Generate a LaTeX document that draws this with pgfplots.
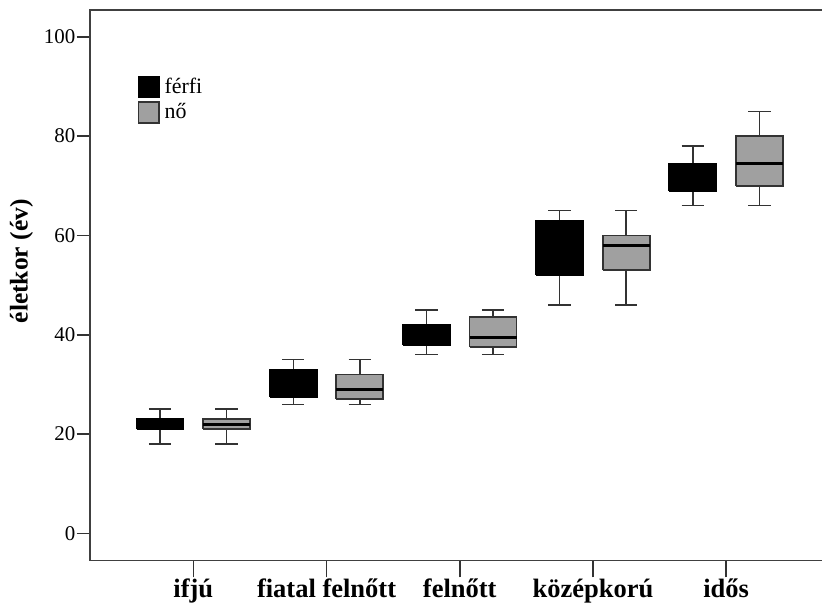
\documentclass[border=0pt]{standalone}
\usepackage{fontspec}
\setmainfont{Liberation Serif}
\usepackage{pgfplots}
\pgfplotsset{compat=1.18}
\usetikzlibrary{calc}
\definecolor{boxgray}{HTML}{A0A0A0}
\definecolor{linegray}{HTML}{333333}
\begin{document}
\begin{tikzpicture}
\begin{axis}[
  name=ax,
  scale only axis,
  width=369.75bp, height=275.35bp,
  xmin=-0.776, xmax=4.776,
  ymin=-5.5, ymax=105.4,
  xtick={0,1,2,3,4},
  xticklabels={ifjú, fiatal felnőtt, felnőtt, középkorú, idős},
  ytick={0,20,40,60,80,100},
  tick pos=left,
  tick align=outside,
  major tick length=6.65bp,
  xtick style={/pgfplots/major tick length=8.35bp},
  tick style={line width=0.75bp, linegray},
  axis line style={line width=0.75bp, black!75},
  /pgf/number format/assume math mode=true,
  yticklabel style={font=\fontsize{10.5}{12}\selectfont, inner sep=0.5bp},
  xticklabel style={font=\bfseries\fontsize{13.3}{15}\selectfont, inner sep=0pt, yshift=-2.2bp},
  ylabel={életkor (év)},
  every axis y label/.style={at={(axis description cs:-0.0926,0.5437)}, rotate=90, anchor=center, font=\bfseries\fontsize{12.8}{14}\selectfont},
  legend style={at={(axis description cs:0.0645,0.8802)}, anchor=north west, draw=none, fill=none, inner sep=0pt, outer sep=0pt, row sep=1.35bp, font=\fontsize{11}{13}\selectfont, nodes={inner sep=0pt}, /tikz/every odd column/.append style={column sep=2.2bp}},
  legend cell align=left,
  legend image code/.code={\draw[#1] (0bp,-5.17bp) rectangle (10.35bp,5.17bp);},
  unbounded coords=jump,
]
% ---------- whiskers (férfi), centres -0.25, 0.75, 1.75, 2.75, 3.75 ----------
\addplot[draw=linegray, line width=0.75bp, forget plot] coordinates {
 (-0.25,23) (-0.25,25) (0,nan) (-0.334,25) (-0.166,25) (0,nan)
 (-0.25,21) (-0.25,18) (0,nan) (-0.334,18) (-0.166,18) (0,nan)
 (0.75,33) (0.75,35) (0,nan) (0.666,35) (0.834,35) (0,nan)
 (0.75,27.5) (0.75,26) (0,nan) (0.666,26) (0.834,26) (0,nan)
 (1.75,42) (1.75,45) (0,nan) (1.666,45) (1.834,45) (0,nan)
 (1.75,38) (1.75,36) (0,nan) (1.666,36) (1.834,36) (0,nan)
 (2.75,63) (2.75,65) (0,nan) (2.666,65) (2.834,65) (0,nan)
 (2.75,52) (2.75,46) (0,nan) (2.666,46) (2.834,46) (0,nan)
 (3.75,74.5) (3.75,78) (0,nan) (3.666,78) (3.834,78) (0,nan)
 (3.75,69) (3.75,66) (0,nan) (3.666,66) (3.834,66)
};
% ---------- whiskers (nő), centres 0.25, 1.25, 2.25, 3.25, 4.25 ----------
\addplot[draw=linegray, line width=0.75bp, forget plot] coordinates {
 (0.25,23) (0.25,25) (0,nan) (0.166,25) (0.334,25) (0,nan)
 (0.25,21) (0.25,18) (0,nan) (0.166,18) (0.334,18) (0,nan)
 (1.25,32) (1.25,35) (0,nan) (1.166,35) (1.334,35) (0,nan)
 (1.25,27) (1.25,26) (0,nan) (1.166,26) (1.334,26) (0,nan)
 (2.25,43.5) (2.25,45) (0,nan) (2.166,45) (2.334,45) (0,nan)
 (2.25,37.5) (2.25,36) (0,nan) (2.166,36) (2.334,36) (0,nan)
 (3.25,60) (3.25,65) (0,nan) (3.166,65) (3.334,65) (0,nan)
 (3.25,53) (3.25,46) (0,nan) (3.166,46) (3.334,46) (0,nan)
 (4.25,80) (4.25,85) (0,nan) (4.166,85) (4.334,85) (0,nan)
 (4.25,70) (4.25,66) (0,nan) (4.166,66) (4.334,66)
};
% ---------- boxes (férfi): lower quartile to upper quartile ----------
\addplot[draw=black, fill=black, line width=0.9bp, forget plot] coordinates {(-0.4265,21) (-0.0735,21) (-0.0735,23) (-0.4265,23) (-0.4265,21)};
\addplot[draw=black, fill=black, line width=0.9bp, forget plot] coordinates {(0.5735,27.5) (0.9265,27.5) (0.9265,33) (0.5735,33) (0.5735,27.5)};
\addplot[draw=black, fill=black, line width=0.9bp, forget plot] coordinates {(1.5735,38) (1.9265,38) (1.9265,42) (1.5735,42) (1.5735,38)};
\addplot[draw=black, fill=black, line width=0.9bp, forget plot] coordinates {(2.5735,52) (2.9265,52) (2.9265,63) (2.5735,63) (2.5735,52)};
\addplot[draw=black, fill=black, line width=0.9bp, forget plot] coordinates {(3.5735,69) (3.9265,69) (3.9265,74.5) (3.5735,74.5) (3.5735,69)};
% ---------- boxes (nő) ----------
\addplot[draw=linegray, fill=boxgray, line width=0.9bp, forget plot] coordinates {(0.0735,21) (0.4265,21) (0.4265,23) (0.0735,23) (0.0735,21)};
\addplot[draw=linegray, fill=boxgray, line width=0.9bp, forget plot] coordinates {(1.0735,27) (1.4265,27) (1.4265,32) (1.0735,32) (1.0735,27)};
\addplot[draw=linegray, fill=boxgray, line width=0.9bp, forget plot] coordinates {(2.0735,37.5) (2.4265,37.5) (2.4265,43.5) (2.0735,43.5) (2.0735,37.5)};
\addplot[draw=linegray, fill=boxgray, line width=0.9bp, forget plot] coordinates {(3.0735,53) (3.4265,53) (3.4265,60) (3.0735,60) (3.0735,53)};
\addplot[draw=linegray, fill=boxgray, line width=0.9bp, forget plot] coordinates {(4.0735,70) (4.4265,70) (4.4265,80) (4.0735,80) (4.0735,70)};
% ---------- medians ----------
\addplot[draw=black, line width=1.5bp, forget plot] coordinates {
 (-0.4265,22) (-0.0735,22) (0,nan) (0.5735,30) (0.9265,30) (0,nan)
 (1.5735,40) (1.9265,40) (0,nan) (2.5735,58) (2.9265,58) (0,nan)
 (3.5735,72) (3.9265,72)
};
\addplot[draw=black, line width=1.5bp, forget plot] coordinates {
 (0.0735,22) (0.4265,22) (0,nan) (1.0735,29) (1.4265,29) (0,nan)
 (2.0735,39.5) (2.4265,39.5) (0,nan) (3.0735,58) (3.4265,58) (0,nan)
 (4.0735,74.5) (4.4265,74.5)
};
\addlegendimage{draw=black, fill=black, line width=0.9bp}
\addlegendentry{férfi}
\addlegendimage{draw=linegray, fill=boxgray, line width=0.9bp}
\addlegendentry{nő}
\end{axis}
\pgfresetboundingbox
\path[use as bounding box] ($(ax.south west)+(-45bp,-21.15bp)$) rectangle ($(ax.south west)+(366bp,280.35bp)$);
\end{tikzpicture}
\end{document}
